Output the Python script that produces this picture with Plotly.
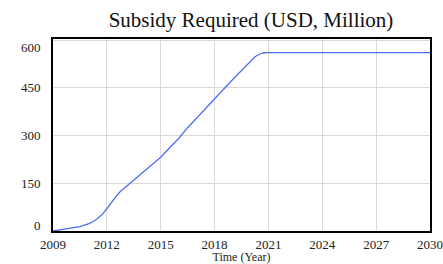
import plotly.graph_objects as go

years = [2009, 2009.5, 2010, 2010.5, 2011, 2011.25, 2011.5, 2011.75, 2012, 2012.25,
         2012.5, 2012.75, 2013, 2013.5, 2014, 2014.5, 2015, 2015.5, 2016, 2016.5,
         2017, 2017.5, 2018, 2018.5, 2019, 2019.5, 2020, 2020.25, 2020.5, 2020.7,
         2020.9, 2030]
subsidy = [0, 4, 8, 14, 23, 30, 40, 53, 70, 90,
           108, 124, 136, 160, 182, 208, 232, 262, 291, 325,
           356, 385, 416, 446, 476, 506, 536, 548, 556, 560,
           561, 561]

x_ticks = [2009, 2012, 2015, 2018, 2021, 2024, 2027, 2030]
y_ticks = [0, 150, 300, 450, 600]
y_max = 604

title_text = "Subsidy Required (USD, Million)"
x_title = "Time (Year)"

FONT = "Liberation Serif, Times New Roman, serif"

fig = go.Figure()
fig.add_trace(go.Scatter(x=years, y=subsidy, mode="lines",
                         line=dict(color="#4f6ef2", width=1.3),
                         hoverinfo="skip"))

fig.update_layout(
    width=443, height=264,
    margin=dict(l=53, r=13, t=39, b=33, autoexpand=False),
    paper_bgcolor="white", plot_bgcolor="white",
    showlegend=False,
    font=dict(family=FONT, color="#222222", size=13),
    title=dict(text=title_text, font=dict(family=FONT, size=21, color="#111111"),
               x=251/443, xref="container", xanchor="center",
               y=1 - 20/264, yref="container", yanchor="middle"),
)
fig.update_xaxes(range=[2009, 2030], tickvals=x_ticks, ticktext=[str(t) for t in x_ticks],
                 showgrid=True, gridcolor="#d9d9d9", gridwidth=1,
                 showline=True, linecolor="black", linewidth=2, mirror=True,
                 zeroline=False, ticks="", tickfont=dict(size=13), automargin=False,
                 title=dict(text=x_title, font=dict(size=12), standoff=1))
fig.update_yaxes(range=[0, y_max], tickvals=y_ticks, showticklabels=False,
                 showgrid=True, gridcolor="#d9d9d9", gridwidth=1,
                 showline=True, linecolor="black", linewidth=2, mirror=True,
                 zeroline=False, ticks="", automargin=False)

for v in y_ticks:
    shift = 0
    if v == y_ticks[0]:
        shift = 6
    elif v == y_ticks[-1]:
        shift = -7
    fig.add_annotation(x=0, xref="paper", y=v, yref="y", text=str(v),
                       showarrow=False, xanchor="right", xshift=-10, yshift=shift,
                       font=dict(size=13, family=FONT, color="#222222"))

fig.write_html("out.html", config={"displayModeBar": False},
               post_script="document.body.style.margin='0';document.body.style.padding='0';")
